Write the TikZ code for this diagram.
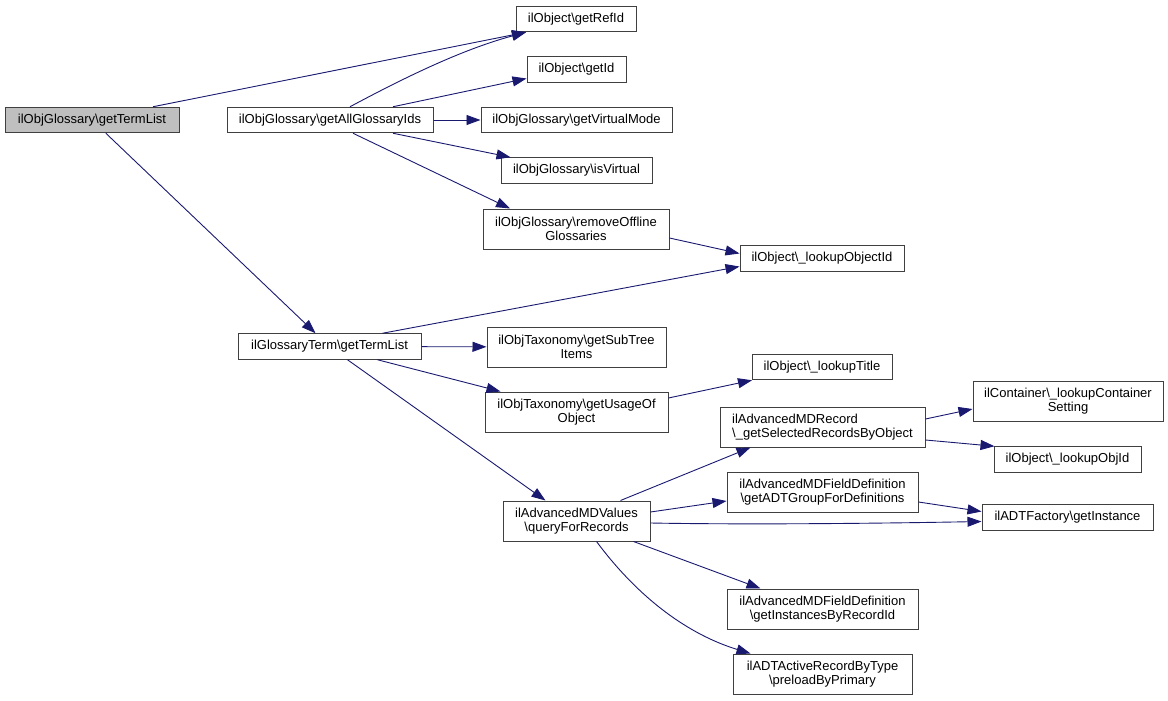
\documentclass[tikz,border=0pt]{standalone}
\usepackage{fontspec}
\setmainfont{Liberation Sans}
\usetikzlibrary{arrows.meta}
\definecolor{edgeblue}{HTML}{191970}
\definecolor{boxgray}{HTML}{BFBFBF}
\tikzset{
  fn/.style={draw=black!75, line width=1pt, fill=white, inner sep=0pt, align=center,
    font=\fontsize{13}{14.5}\selectfont, minimum height=25.5pt},
  fn2/.style={fn, minimum height=40pt},
  call/.style={draw=edgeblue, line width=0.9pt, -{Triangle[length=14pt,width=10pt]}}
}
\begin{document}
\begin{tikzpicture}[x=1pt,y=-1pt]
\useasboundingbox (0,0) rectangle (1168,701);
\node[fn, fill=boxgray, minimum width=174pt] (A) at (92,120) {ilObjGlossary\textbackslash getTermList};
\node[fn, minimum width=206pt] (B) at (330,120) {ilObjGlossary\textbackslash getAllGlossaryIds};
\node[fn, minimum width=120pt] (C) at (576,19) {ilObject\textbackslash getRefId};
\node[fn, minimum width=99pt] (D) at (576.5,69.5) {ilObject\textbackslash getId};
\node[fn, minimum width=191pt] (E) at (576.5,120) {ilObjGlossary\textbackslash getVirtualMode};
\node[fn, minimum width=151pt] (F) at (576.5,170.5) {ilObjGlossary\textbackslash isVirtual};
\node[fn2, minimum width=186pt] (G) at (576,229) {ilObjGlossary\textbackslash removeOffline\\Glossaries};
\node[fn, minimum width=164pt] (H) at (822,258.5) {ilObject\textbackslash \_lookupObjectId};
\node[fn, minimum width=183pt] (I) at (329.5,346.5) {ilGlossaryTerm\textbackslash getTermList};
\node[fn2, minimum width=179pt] (J) at (576.5,347) {ilObjTaxonomy\textbackslash getSubTree\\Items};
\node[fn2, minimum width=183pt] (K) at (576.5,412) {ilObjTaxonomy\textbackslash getUsageOf\\Object};
\node[fn, minimum width=140pt] (L) at (822,367) {ilObject\textbackslash \_lookupTitle};
\node[fn2, minimum width=147pt] (M) at (576.5,521) {ilAdvancedMDValues\\\textbackslash queryForRecords};
\node[fn2, minimum width=205pt, align=left] (N) at (822.5,427) {ilAdvancedMDRecord\\\textbackslash \_getSelectedRecordsByObject};
\node[fn2, minimum width=190pt] (O) at (1068,401) {ilContainer\textbackslash \_lookupContainer\\Setting};
\node[fn, minimum width=147pt] (P) at (1067.5,459.5) {ilObject\textbackslash \_lookupObjId};
\node[fn2, minimum width=191pt] (Q) at (822.5,492) {ilAdvancedMDFieldDefinition\\\textbackslash getADTGroupForDefinitions};
\node[fn, minimum width=171pt] (R) at (1067.5,517.5) {ilADTFactory\textbackslash getInstance};
\node[fn2, minimum width=191pt] (S) at (822.5,609) {ilAdvancedMDFieldDefinition\\\textbackslash getInstancesByRecordId};
\node[fn2, minimum width=179pt] (T) at (822.5,674) {ilADTActiveRecordByType\\\textbackslash preloadByPrimary};

\draw[call] ([xshift=61pt]A.north) -- ([xshift=-50pt]C.south);
\draw[call] ([xshift=20pt]B.north) .. controls (400,80) and (460,50) .. ([xshift=-50pt]C.south);
\draw[call] ([xshift=63pt]B.north) -- ([yshift=-9pt]D.west);
\draw[call] (B) -- (E);
\draw[call] ([xshift=63pt]B.south) -- ([xshift=-66pt]F.north);
\draw[call] ([xshift=23pt]B.south) -- ([xshift=-66pt]G.north);
\draw[call] ([yshift=-9pt]G.east) -- ([yshift=5pt]H.west);
\draw[call] (A) -- ([xshift=-14pt]I.north);
\draw[call] ([xshift=53pt]I.north) -- ([yshift=-8pt]H.west);
\draw[call] (I) -- (J);
\draw[call] ([xshift=48pt]I.south) -- ([xshift=-76pt]K.north);
\draw[call] ([xshift=18pt]I.south) -- ([xshift=-31pt]M.north);
\draw[call] ([yshift=14pt]K.east) -- ([xshift=-70pt]L.south);
\draw[call] ([xshift=44pt]M.north) -- ([xshift=-72pt]N.south);
\draw[call] ([yshift=9pt]M.east) -- ([yshift=-9pt]Q.west);
\draw[call] ([yshift=-2pt]M.east) .. controls (760,525) and (900,523) .. ([yshift=-4pt]R.west);
\draw[call] ([xshift=57pt]M.south) -- ([xshift=-62pt]S.north);
\draw[call] ([xshift=20pt]M.south) .. controls (640,600) and (690,635) .. ([xshift=-72pt]T.north);
\draw[call] ([yshift=8pt]N.east) -- ([yshift=-8pt]O.west);
\draw[call] ([yshift=-13pt]N.east) -- ([xshift=-73pt]P.north);
\draw[call] ([yshift=-10pt]Q.east) -- ([yshift=6pt]R.west);
\end{tikzpicture}
\end{document}
